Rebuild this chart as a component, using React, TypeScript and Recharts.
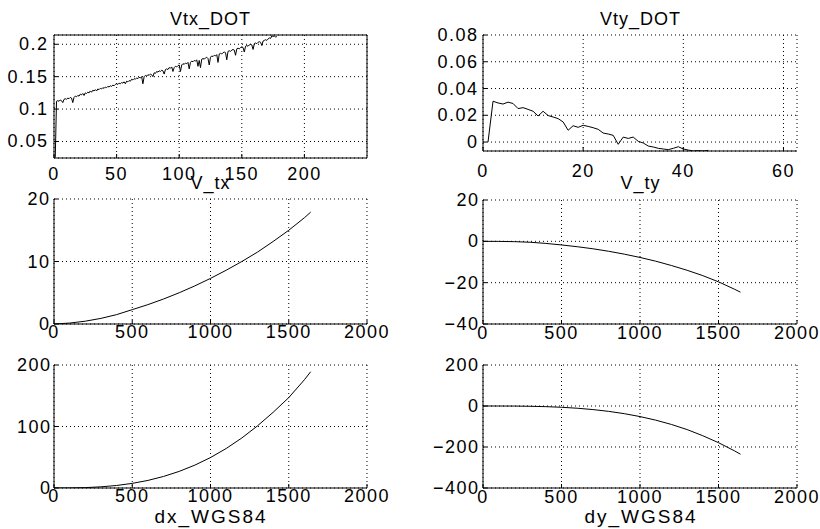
import React from 'react';
import { LineChart, Line, XAxis, YAxis, CartesianGrid, ReferenceLine } from 'recharts';

const FONT = '"Liberation Sans", Arial, Helvetica, sans-serif';
const FS = 18;
const LS = 1.5;

// Vtx_DOT (sample index 1..178)
const vtxDot = [
  0.025, 0.112, 0.113, 0.112, 0.114, 0.113, 0.110, 0.115, 0.116, 0.115,
  0.117, 0.116, 0.118, 0.117, 0.110, 0.118, 0.120, 0.119, 0.121, 0.120,
  0.123, 0.122, 0.124, 0.121, 0.125, 0.124, 0.126, 0.125, 0.128, 0.126,
  0.129, 0.128, 0.130, 0.128, 0.131, 0.130, 0.132, 0.131, 0.133, 0.132,
  0.134, 0.133, 0.135, 0.134, 0.136, 0.135, 0.137, 0.136, 0.138, 0.139,
  0.138, 0.140, 0.139, 0.141, 0.140, 0.142, 0.139, 0.143, 0.142, 0.144,
  0.143, 0.146, 0.145, 0.147, 0.146, 0.148, 0.147, 0.149, 0.148, 0.150,
  0.139, 0.150, 0.152, 0.151, 0.153, 0.152, 0.154, 0.153, 0.150, 0.156,
  0.155, 0.158, 0.157, 0.159, 0.158, 0.160, 0.159, 0.154, 0.161, 0.162,
  0.161, 0.164, 0.163, 0.165, 0.158, 0.164, 0.166, 0.165, 0.167, 0.168,
  0.158, 0.168, 0.170, 0.169, 0.171, 0.170, 0.172, 0.162, 0.172, 0.174,
  0.173, 0.175, 0.174, 0.176, 0.166, 0.175, 0.164, 0.177, 0.178, 0.177,
  0.179, 0.180, 0.178, 0.168, 0.180, 0.182, 0.181, 0.183, 0.182, 0.184,
  0.172, 0.185, 0.186, 0.185, 0.187, 0.188, 0.187, 0.176, 0.189, 0.190,
  0.189, 0.191, 0.192, 0.191, 0.183, 0.193, 0.194, 0.193, 0.195, 0.196,
  0.195, 0.188, 0.197, 0.198, 0.197, 0.199, 0.200, 0.199, 0.192, 0.201,
  0.202, 0.201, 0.203, 0.204, 0.203, 0.198, 0.205, 0.206, 0.207, 0.206,
  0.208, 0.210, 0.209, 0.213, 0.212, 0.213, 0.211, 0.212,
];

// Vty_DOT (sample index 1..45)
const vtyDot = [
  0, 0.0305, 0.0292, 0.0284, 0.0298, 0.0288, 0.025, 0.0257, 0.0244, 0.023,
  0.0195, 0.023, 0.0198, 0.0187, 0.0175, 0.015, 0.0088, 0.0122, 0.011, 0.0125,
  0.0117, 0.0107, 0.0095, 0.0067, 0.006, 0.005, -0.0017, 0.0037, 0.0027, 0.0037,
  0.0005, -0.0007, -0.003, -0.0037, -0.0047, -0.0052, -0.0057, -0.0047, -0.0035, -0.0052,
  -0.006, -0.0067, -0.0064, -0.0067, -0.0062,
];

const timeAxis = [0, 100, 200, 300, 400, 500, 600, 700, 800, 900, 1000, 1100, 1200, 1300, 1400, 1500, 1600, 1640];
const vTx = [0, 0.15, 0.45, 0.9, 1.5, 2.3, 3.1, 4.0, 5.0, 6.1, 7.3, 8.6, 10.0, 11.5, 13.2, 15.0, 17.0, 17.9];
const vTy = [0, -0.02, -0.15, -0.45, -1.0, -1.75, -2.6, -3.6, -4.8, -6.2, -7.8, -9.6, -11.7, -14.0, -16.6, -19.6, -23.1, -24.6];
const dxWgs84 = [0, 0.09, 0.62, 1.9, 4.1, 7.5, 12.3, 18.8, 27.0, 37.2, 49.5, 64.2, 81.3, 101, 123, 147, 176, 189];
const dyWgs84 = [0, -0.05, -0.38, -1.3, -3.2, -6.2, -10.9, -17.4, -26.1, -37.4, -51.6, -69.0, -90.0, -115, -145, -179, -218, -235];

const xTicksTime = [0, 500, 1000, 1500, 2000];

const fmt = (v: number) => String(v).replace('-', '\u2212');

type SP = {
  left: number; top: number; w: number; h: number;
  data: { x: number; y: number }[];
  xDomain: [number, number]; yDomain: [number, number];
  xTicks: number[]; yTicks: number[];
  box?: boolean; xLabelDy: number; yGap: number;
};

function Subplot(p: SP) {
  const ML = 70, MT = 10, MR = 40, XH = 40;
  const xTick = (props: any) => {
    const { x, y, payload } = props;
    return (
      <g>
        <line x1={x} y1={y} x2={x} y2={y - 4} stroke="#000" />
        <text x={x} y={y + p.xLabelDy} textAnchor="middle" fontFamily={FONT} fontSize={FS}
          letterSpacing={LS} fill="#000">
          {fmt(payload.value)}
        </text>
      </g>
    );
  };
  const yTick = (props: any) => {
    const { x, y, payload } = props;
    return (
      <g>
        <line x1={x} y1={y} x2={x + 4} y2={y} stroke="#000" />
        <text x={x - p.yGap + LS} y={y + 6} textAnchor="end" fontFamily={FONT} fontSize={FS}
          letterSpacing={LS} fill="#000">
          {fmt(payload.value)}
        </text>
      </g>
    );
  };
  return (
    <div style={{ position: 'absolute', left: p.left - ML, top: p.top - MT }}>
      <LineChart width={p.w + ML + MR} height={p.h + MT + XH} data={p.data} margin={{ top: MT, right: MR, bottom: 0, left: 0 }}>
        <CartesianGrid stroke="#000" strokeDasharray="1 3" />
        <XAxis type="number" dataKey="x" domain={p.xDomain} ticks={p.xTicks} interval={0} tickSize={0} tickMargin={0}
          tick={xTick} height={XH} axisLine={{ stroke: '#000' }} tickLine={false} allowDataOverflow />
        <YAxis type="number" domain={p.yDomain} ticks={p.yTicks} interval={0} width={ML} tickSize={0} tickMargin={0}
          tick={yTick} axisLine={{ stroke: '#000' }} tickLine={false} allowDataOverflow />
        {p.box && <ReferenceLine y={p.yDomain[1]} stroke="#000" strokeWidth={1} />}
        {p.box && <ReferenceLine x={p.xDomain[1]} stroke="#000" strokeWidth={1} />}
        <Line dataKey="y" stroke="#000" strokeWidth={1} dot={false} isAnimationActive={false} type="linear" />
      </LineChart>
    </div>
  );
}

const toSeries = (xs: number[], ys: number[]) => ys.map((y, i) => ({ x: xs[i], y }));
const toIndexed = (ys: number[]) => ys.map((y, i) => ({ x: i + 1, y }));

export default function App() {
  const titleStyle = { fontFamily: FONT, fontSize: 18, letterSpacing: 1, fill: '#000' } as any;
  const labelStyle = { fontFamily: FONT, fontSize: 19, letterSpacing: 2, fill: '#000' } as any;
  return (
    <div style={{ position: 'absolute', left: 0, top: 0, width: 820, height: 529, background: '#fff', overflow: 'hidden' }}>
      <Subplot left={54} top={35} w={313} h={123} data={toIndexed(vtxDot)} xDomain={[0, 250]} yDomain={[0.0245, 0.2143]}
        xTicks={[0, 50, 100, 150, 200]} yTicks={[0.05, 0.1, 0.15, 0.2]} box xLabelDy={22} yGap={7} />
      <Subplot left={483} top={35} w={314} h={116} data={toIndexed(vtyDot)} xDomain={[0, 62.7]} yDomain={[-0.0067, 0.08]}
        xTicks={[0, 20, 40, 60]} yTicks={[0, 0.02, 0.04, 0.06, 0.08]} xLabelDy={26} yGap={6} />
      <Subplot left={54} top={199} w={313} h={125} data={toSeries(timeAxis, vTx)} xDomain={[0, 2000]} yDomain={[0, 20]}
        xTicks={xTicksTime} yTicks={[0, 10, 20]} xLabelDy={14} yGap={5} />
      <Subplot left={483} top={200} w={314} h={124} data={toSeries(timeAxis, vTy)} xDomain={[0, 2000]} yDomain={[-40, 20]}
        xTicks={xTicksTime} yTicks={[-40, -20, 0, 20]} xLabelDy={15} yGap={5} />
      <Subplot left={54} top={365} w={313} h={123} data={toSeries(timeAxis, dxWgs84)} xDomain={[0, 2000]} yDomain={[0, 200]}
        xTicks={xTicksTime} yTicks={[0, 100, 200]} xLabelDy={14} yGap={4} />
      <Subplot left={483} top={365} w={314} h={123} data={toSeries(timeAxis, dyWgs84)} xDomain={[0, 2000]} yDomain={[-400, 200]}
        xTicks={xTicksTime} yTicks={[-400, -200, 0, 200]} xLabelDy={15} yGap={5} />
      <svg width={820} height={529} style={{ position: 'absolute', left: 0, top: 0, pointerEvents: 'none' }}>
        <text x={210.5} y={25} textAnchor="middle" style={titleStyle}>Vtx_DOT</text>
        <text x={640.5} y={25} textAnchor="middle" style={titleStyle}>Vty_DOT</text>
        <text x={210.5} y={189} textAnchor="middle" style={titleStyle}>V_tx</text>
        <text x={640.5} y={189} textAnchor="middle" style={titleStyle}>V_ty</text>
        <text x={211} y={523} textAnchor="middle" style={labelStyle}>dx_WGS84</text>
        <text x={641} y={523} textAnchor="middle" style={labelStyle}>dy_WGS84</text>
      </svg>
    </div>
  );
}
